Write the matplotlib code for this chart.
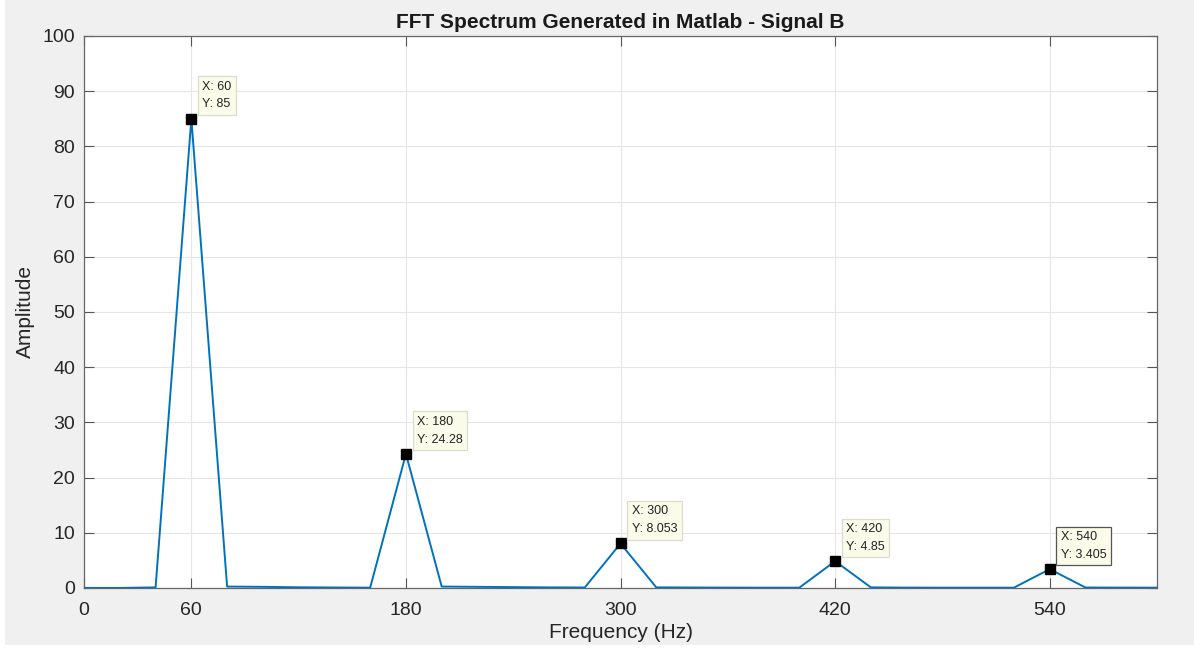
import numpy as np
import matplotlib.pyplot as plt
from matplotlib.patches import Rectangle

plt.rcParams['font.family'] = ['Liberation Sans', 'DejaVu Sans']

# spectrum samples (20 Hz resolution)
freq = np.arange(0, 620, 20)
amp = [0.0, 0.0, 0.1, 85.0, 0.25, 0.2, 0.12, 0.08, 0.05,
       24.28, 0.25, 0.2, 0.15, 0.1, 0.08, 8.053, 0.1, 0.08,
       0.06, 0.05, 0.05, 4.85, 0.1, 0.06, 0.05, 0.05, 0.05,
       3.405, 0.08, 0.06, 0.05]

tip_x = [60, 180, 300, 420, 540]
tip_y = [85, 24.28, 8.053, 4.85, 3.405]
tip_text = ["85", "24.28", "8.053", "4.85", "3.405"]

xticks = [0, 60, 180, 300, 420, 540]
yticks = np.arange(0, 110, 10)

fig = plt.figure(figsize=(11.94, 6.54), dpi=100, facecolor='white')
# grey window area (screenshot has a thin white margin left and bottom)
fig.patches.append(Rectangle((5 / 1194, 9 / 654), 1, 1, transform=fig.transFigure,
                             fc='#f0f0f0', ec='none', zorder=-10))
ax = fig.add_axes([0.0704, 0.101, 0.8986, 0.844])

ax.plot(freq, amp, color='#0072BD', lw=1.4, zorder=3)
ax.plot(tip_x, tip_y, 's', color='black', ms=6.5, zorder=4)

for x, y, t in zip(tip_x, tip_y, tip_text):
    ec = '#555555' if x == 540 else '#dcdccc'
    ax.annotate("X: %d\nY: %s" % (x, t), xy=(x, y), xytext=(8, 6),
                textcoords='offset points', ha='left', va='bottom',
                fontsize=9, color='#222222', linespacing=1.65, zorder=5,
                bbox=dict(boxstyle='square,pad=0.35', fc='#fbfbea', ec=ec, lw=0.9))

ax.set_xlim(0, 600)
ax.set_ylim(0, 100)
ax.set_xticks(xticks)
ax.set_yticks(yticks)
ax.tick_params(direction='in', length=7, width=0.8, colors='#555555',
               labelcolor='#262626', labelsize=14, top=True, right=True)
ax.tick_params(axis='x', pad=10)
ax.tick_params(axis='y', pad=6.5)
ax.grid(color='#e6e6e6', lw=0.8)
ax.set_axisbelow(True)
for s in ax.spines.values():
    s.set_color('#666666')
    s.set_linewidth(0.9)

ax.set_title("FFT Spectrum Generated in Matlab - Signal B", fontsize=15,
             fontweight='bold', color='#1a1a1a', pad=6)
ax.set_xlabel("Frequency (Hz)", fontsize=15, color='#262626', labelpad=3)
ax.set_ylabel("Amplitude", fontsize=15, color='#262626')
ax.yaxis.set_label_coords(-0.046, 0.5)

plt.savefig("out.png", dpi=100, facecolor=fig.get_facecolor())
